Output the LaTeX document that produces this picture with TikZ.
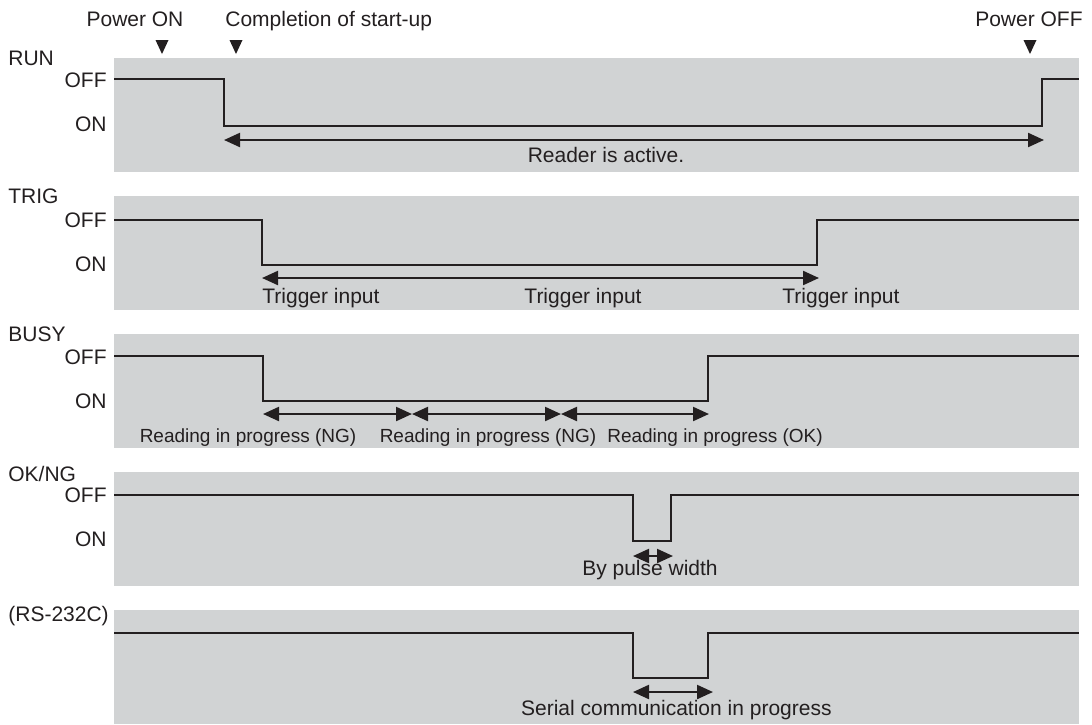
\documentclass[tikz,border=0pt]{standalone}
\usepackage{fontspec}
\setmainfont{Liberation Sans}
\usetikzlibrary{arrows.meta, positioning}
\definecolor{bandgray}{HTML}{D1D3D4}
\definecolor{sigline}{HTML}{231F20}

\begin{document}
\begin{tikzpicture}[
  x=0.5pt, y=-0.5pt,
  >={Triangle[length=8pt, width=7pt]},
  band/.style={fill=bandgray, draw=none},
  signal/.style={draw=sigline, line width=1.3pt},
  dimarrow/.style={<->, draw=sigline, fill=sigline, line width=1.1pt},
  txt/.style={inner sep=0pt, font=\fontsize{10.5}{12}\selectfont, text=sigline},
  smalltxt/.style={txt, font=\fontsize{9.5}{11}\selectfont}
]
  \useasboundingbox (0,0) rectangle (1092,724);

  %=======================================

  % Bandes grises
  \foreach \t in {58,196,334,472,610}
    \fill[band] (114,\t) rectangle (1079,\t+114);

  % Evenements en haut
  \node[txt, anchor=base] (powerOn) at (135,26) {Power ON};
  \node[txt, anchor=base west] (startUp) at (225,26) {Completion of start-up};
  \node[txt, anchor=base east] (powerOff) at (1083,26) {Power OFF};
  \foreach \x in {162,236,1030}
    \fill[sigline] (\x-6.5,40) -- (\x+6.5,40) -- (\x,54) -- cycle;

  % RUN ==================================
  \node[txt, anchor=base west] (runName) at (8,65) {RUN};
  \node[txt, anchor=base east] (runOff) at (107,87) {OFF};
  \node[txt, anchor=base east] (runOn) at (107,131) {ON};
  \draw[signal] (114,79) -- (224,79) -- (224,126) -- (1042,126) -- (1042,79) -- (1079,79);
  \coordinate (runA) at (224,140);
  \coordinate (runB) at (1044,140);
  \draw[dimarrow] (runA) -- (runB);
  \node[txt, anchor=base] (runActive) at (606,162) {Reader is active.};

  % TRIG =================================
  \node[txt, anchor=base west] (trigName) at (8,203) {TRIG};
  \node[txt, anchor=base east] (trigOff) at (107,227) {OFF};
  \node[txt, anchor=base east] (trigOn) at (107,271) {ON};
  \draw[signal] (114,220) -- (262,220) -- (262,265) -- (817,265) -- (817,220) -- (1079,220);
  \coordinate (trigA) at (262,278);
  \coordinate (trigB) at (819,278);
  \draw[dimarrow] (trigA) -- (trigB);
  \node[txt, anchor=base west] (trigIn1) at (262,303) {Trigger input};
  \node[txt, anchor=base] (trigIn2) at (583,303) {Trigger input};
  \node[txt, anchor=base west] (trigIn3) at (782,303) {Trigger input};

  % BUSY =================================
  \node[txt, anchor=base west] (busyName) at (8,341) {BUSY};
  \node[txt, anchor=base east] (busyOff) at (107,364) {OFF};
  \node[txt, anchor=base east] (busyOn) at (107,408) {ON};
  \draw[signal] (114,356) -- (263,356) -- (263,401) -- (708,401) -- (708,356) -- (1079,356);
  \coordinate (busyA) at (263,414);
  \coordinate (busyB) at (412,414);
  \coordinate (busyC) at (561,414);
  \coordinate (busyD) at (709,414);
  \draw[dimarrow] (busyA) -- (busyB);
  \draw[dimarrow] (busyB) -- (busyC);
  \draw[dimarrow] (busyC) -- (busyD);
  \node[smalltxt, anchor=base] (busyNG1) at (248,442) {Reading in progress (NG)};
  \node[smalltxt, anchor=base] (busyNG2) at (488,442) {Reading in progress (NG)};
  \node[smalltxt, anchor=base] (busyOK) at (715,442) {Reading in progress (OK)};

  % OK/NG ================================
  \node[txt, anchor=base west] (okName) at (8,481) {OK/NG};
  \node[txt, anchor=base east] (okOff) at (107,502) {OFF};
  \node[txt, anchor=base east] (okOn) at (107,546) {ON};
  \draw[signal] (114,495) -- (633,495) -- (633,541) -- (671,541) -- (671,495) -- (1079,495);
  \coordinate (okA) at (633,556);
  \coordinate (okB) at (673,556);
  \draw[dimarrow] (okA) -- (okB);
  \node[txt, anchor=base] (okPulse) at (650,575) {By pulse width};

  % RS-232C ==============================
  \node[txt, anchor=base west] (rsName) at (8,621) {(RS-232C)};
  \draw[signal] (114,633) -- (633,633) -- (633,678) -- (708,678) -- (708,633) -- (1079,633);
  \coordinate (rsA) at (633,692);
  \coordinate (rsB) at (713,692);
  \draw[dimarrow] (rsA) -- (rsB);
  \node[txt, anchor=base east] (rsSerial) at (832,715) {Serial communication in progress};

  %=======================================

\end{tikzpicture}
\end{document}
